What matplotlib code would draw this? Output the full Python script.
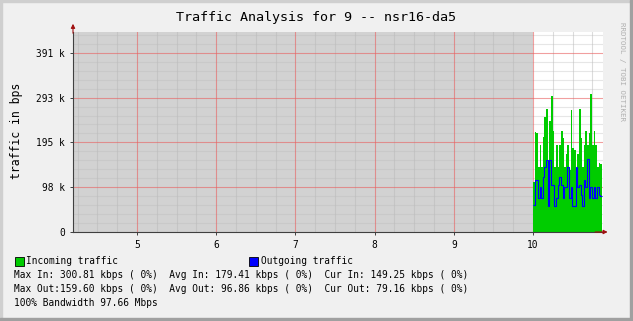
import numpy as np
import matplotlib.pyplot as plt
from matplotlib.patches import Rectangle

W, H = 633, 321

# data (kbps), one value per step, from 10:00 on
in_k = [109, 219, 215, 141, 189, 141, 208, 250, 269, 141, 243, 297, 221, 141,
        189, 141, 189, 221, 204, 141, 171, 189, 135, 267, 184, 178, 113, 171,
        269, 204, 141, 189, 221, 189, 215, 300.8, 189, 221, 189, 141, 150, 149]
out_k = [59, 113, 113, 74, 98, 74, 119, 141, 156, 56, 156, 102, 102, 56,
         74, 102, 119, 102, 74, 98, 98, 141, 74, 98, 56, 56, 141, 98,
         102, 80, 56, 113, 98, 159.6, 74, 98, 74, 98, 74, 98, 80, 79]
t_start = 10.0
t_end = 10.87

y_ticks = [97656.25, 195312.5, 292968.75, 390625.0]
y_labels = ["98 k", "195 k", "293 k", "391 k"]
x_ticks = [5, 6, 7, 8, 9, 10]

title = "Traffic Analysis for 9 -- nsr16-da5"
legend_lines = [
    "Max In: 300.81 kbps ( 0%)  Avg In: 179.41 kbps ( 0%)  Cur In: 149.25 kbps ( 0%)",
    "Max Out:159.60 kbps ( 0%)  Avg Out: 96.86 kbps ( 0%)  Cur Out: 79.16 kbps ( 0%)",
    "100% Bandwidth 97.66 Mbps",
]

mono = "DejaVu Sans Mono"
plt.rcParams['font.family'] = mono

fig = plt.figure(figsize=(W / 100, H / 100), dpi=100, facecolor='#F0F0F0')

def fx(px):
    return px / W

def fy(py):
    return 1 - py / H

# frame (3d look)
fig.patches.append(Rectangle((0, fy(2)), 1, 2 / H, transform=fig.transFigure, color='#CFCFCF', zorder=-1))
fig.patches.append(Rectangle((0, 0), fx(2), 1, transform=fig.transFigure, color='#CFCFCF', zorder=-1))
fig.patches.append(Rectangle((0, 0), 1, 3 / H, transform=fig.transFigure, color='#A0A0A0', zorder=-1))
fig.patches.append(Rectangle((fx(630), 0), fx(3), 1, transform=fig.transFigure, color='#A0A0A0', zorder=-1))

ax = fig.add_axes([fx(73), fy(232), fx(603 - 73), (232 - 32) / H])
ax.set_facecolor('white')
x0, x1 = 4.192, 10.884
ax.set_xlim(x0, x1)
ax.set_ylim(0, 436000)

# unknown-data shading
ax.axvspan(x0, t_start, color='#D2D2D2', zorder=0, lw=0)

# grid
for v in np.arange(x0 - x0 % 0.25 + 0.25, x1, 0.25):
    if abs(v - round(v)) > 1e-6:
        ax.axvline(v, color='#BABABA', lw=0.8, alpha=0.5, zorder=0.4)
for v in np.arange(19531.25, 436000, 19531.25):
    if all(abs(v - t) > 1 for t in y_ticks):
        ax.axhline(v, color='#BABABA', lw=0.8, alpha=0.35, zorder=0.4)
for v in x_ticks:
    ax.axvline(v, color='#E86060', lw=0.8, alpha=0.6, zorder=0.45)
for v in y_ticks:
    ax.axhline(v, color='#E86060', lw=0.8, alpha=0.6, zorder=0.45)

edges = np.linspace(t_start, t_end, len(in_k) + 1)
ax.stairs(np.array(in_k) * 1000, edges, fill=True, color='#00CC00', zorder=2)
ax.stairs(np.array(out_k) * 1000, edges, baseline=None, color='#0000FF', lw=0.8, zorder=3)

for s in ['top', 'right']:
    ax.spines[s].set_visible(False)
for s in ['left', 'bottom']:
    ax.spines[s].set_color('#404040')
    ax.spines[s].set_linewidth(0.8)

ax.set_xticks(x_ticks)
ax.set_xticklabels([str(v) for v in x_ticks])
ax.set_yticks([0] + y_ticks)
ax.set_yticklabels(["0"] + y_labels)
ax.tick_params(axis='both', length=2.5, width=0.7, color='#404040', labelsize=6.85, pad=3.5)
ax.tick_params(axis='x', pad=3)

# arrows
ax.annotate('', xy=(x0, 1.055), xytext=(x0, 0.98), xycoords=('data', 'axes fraction'),
            arrowprops=dict(arrowstyle='-|>', color='#A01010', lw=0.8, mutation_scale=6),
            annotation_clip=False)
ax.annotate('', xy=(1.014, 0), xytext=(0.98, 0), xycoords='axes fraction',
            arrowprops=dict(arrowstyle='-|>', color='#A01010', lw=0.8, mutation_scale=6),
            annotation_clip=False)

fig.text(0.5, fy(17), title, ha='center', va='center', fontsize=9.6)
fig.text(fx(17), fy(131), "traffic in bps", rotation=90, ha='center', va='center', fontsize=8.3)
fig.text(fx(622), fy(22), "RRDTOOL / TOBI OETIKER", rotation=270, ha='center', va='top',
         fontsize=5.4, color='#B0B0B0')

# legend
fig.patches.append(Rectangle((fx(15), fy(266)), fx(9), 9 / H, transform=fig.transFigure,
                             facecolor='#00CC00', edgecolor='black', lw=0.6))
fig.text(fx(26), fy(261), "Incoming traffic", ha='left', va='center', fontsize=6.85)
fig.patches.append(Rectangle((fx(249), fy(266)), fx(9), 9 / H, transform=fig.transFigure,
                             facecolor='#0000FF', edgecolor='black', lw=0.6))
fig.text(fx(261), fy(261), "Outgoing traffic", ha='left', va='center', fontsize=6.85)
for i, line in enumerate(legend_lines):
    fig.text(fx(14), fy(275 + 14 * i), line, ha='left', va='center', fontsize=6.85)

fig.savefig('out.png', dpi=100, facecolor=fig.get_facecolor())
